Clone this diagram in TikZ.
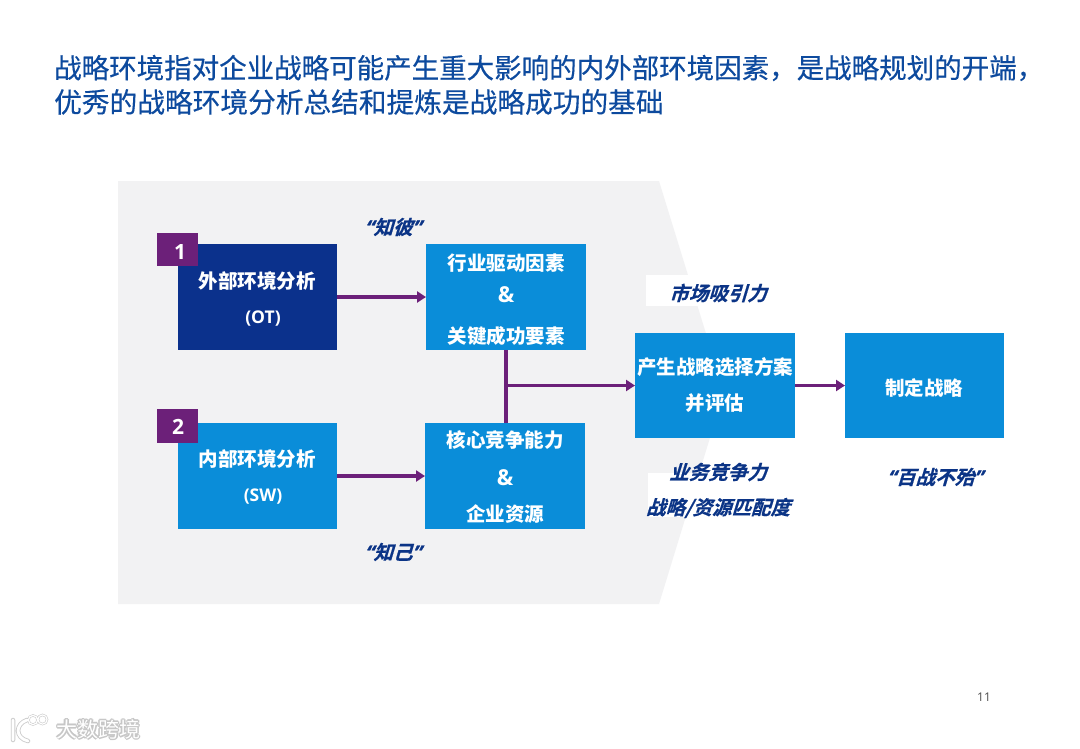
\documentclass[tikz,border=0pt]{standalone}
\usepackage{fontspec}
\setmainfont{Noto Sans CJK SC}
\newfontfamily\latinbold[BoldFont={Open Sans Bold}]{Open Sans}
\newfontfamily\quotefont[FakeSlant=0.25,FakeBold=1.5]{Open Sans}
\newfontfamily\cjkslant[BoldFont={Noto Sans CJK SC Bold},BoldFeatures={FakeSlant=0.3,FakeBold=0.6}]{Noto Sans CJK SC}
\newfontfamily\cjktitle[FakeBold=0.35]{Noto Sans CJK SC}
\usetikzlibrary{arrows.meta}
\definecolor{bgray}{HTML}{F2F2F3}
\definecolor{bblue}{HTML}{0A8DD9}
\definecolor{bdark}{HTML}{0B318C}
\definecolor{bpurple}{HTML}{6C2079}
\definecolor{btitle}{HTML}{0D4A9E}
\definecolor{bslant}{HTML}{0B3486}
\tikzset{
  x=1pt,y=-1pt,
  boxnode/.style={minimum width=#1,minimum height=105.5pt,inner sep=0pt,outer sep=0pt,fill=bblue,draw=none},
  boxnode/.default=160pt,
  badge/.style={fill=bpurple,minimum width=41.5pt,minimum height=33.5pt,inner sep=0pt,outer sep=0pt},
  boxtext/.style={text=white,font=\fontsize{19.5}{22}\selectfont\bfseries,inner sep=0pt},
  lattext/.style={text=white,font=\fontsize{17.5}{20}\latinbold\bfseries,inner sep=0pt},
  amptext/.style={text=white,font=\fontsize{22}{24}\latinbold\bfseries,inner sep=0pt},
  numtext/.style={text=white,font=\fontsize{21}{24}\latinbold\bfseries,inner sep=0pt},
  slanttext/.style={text=bslant,font=\fontsize{19.5}{22}\cjkslant\bfseries,inner sep=0pt},
  titletext/.style={text=btitle,font=\fontsize{27.5}{30}\cjktitle,inner sep=0pt,anchor=west},
  flow/.style={draw=bpurple,line width=3.2pt,-{Triangle[length=9pt,width=11pt]}},
  flowplain/.style={draw=bpurple,line width=3.2pt},
  wmshadow/.style={text=black!22,font=\fontsize{21}{24}\selectfont\bfseries,inner sep=0pt},
  wmtext/.style={text=white,font=\fontsize{21}{24}\selectfont,inner sep=0pt},
}
\newcommand{\openq}{{\quotefont “}}
\newcommand{\closeq}{{\quotefont ”}}
\begin{document}
\begin{tikzpicture}
\useasboundingbox (0,0) rectangle (1080,748);
\fill[white] (0,0) rectangle (1080,748);
% grey chevron
\fill[bgray] (118,181) -- (659,181) -- (724,392) -- (659,604) -- (118,604) -- cycle;
% white text backings
\fill[white] (646,275) rectangle (780,306);
\fill[white] (648,473) rectangle (780,517);
% title
\node[titletext] (t1) at (54,68) {战略环境指对企业战略可能产生重大影响的内外部环境因素，是战略规划的开端，};
\node[titletext,font=\fontsize{27.7}{30}\cjktitle] (t2) at (54,102) {优秀的战略环境分析总结和提炼是战略成功的基础};
% boxes
\node[boxnode=159pt,fill=bdark] (ext) at (257.5,297) {};
\node[boxnode=159pt] (int) at (257.5,476) {};
\node[boxnode] (kfs) at (506,297) {};
\node[boxnode] (core) at (505,476) {};
\node[boxnode] (opt) at (715,385.5) {};
\node[boxnode=159pt] (strat) at (924.5,385.5) {};
\node[badge] (b1) at (177.5,249.5) {};
\node[badge] (b2) at (177.5,426) {};
% box texts
\node[numtext] (n1) at (180,252) {1};
\node[numtext] (n2) at (178,427) {2};
\node[boxtext] (e1) at (257,281) {外部环境分析};
\node[lattext] (e2) at (263,318.5) {(OT)};
\node[boxtext] (i1) at (257,459) {内部环境分析};
\node[lattext] (i2) at (263,496.5) {(SW)};
\node[boxtext] (k1) at (506,263) {行业驱动因素};
\node[amptext] (k2) at (506,295) {\&};
\node[boxtext] (k3) at (506,336) {关键成功要素};
\node[boxtext] (c1) at (505,440) {核心竞争能力};
\node[amptext] (c2) at (505,478) {\&};
\node[boxtext] (c3) at (505,514) {企业资源};
\node[boxtext] (o1) at (715,367) {产生战略选择方案};
\node[boxtext] (o2) at (715,403) {并评估};
\node[boxtext] (s1) at (924,388) {制定战略};
% italic labels
\node[slanttext] (l1) at (393,227) {\openq 知彼\closeq};
\node[slanttext] (l2) at (393,552) {\openq 知己\closeq};
\node[slanttext] (l3) at (718,293) {市场吸引力};
\node[slanttext] (l4) at (718,472) {业务竞争力};
\node[slanttext] (l5) at (718,508) {战略/资源匹配度};
\node[slanttext] (l6) at (935,477) {\openq 百战不殆\closeq};
% connectors
\draw[flow] (ext.east) -- (kfs.west);
\draw[flow] (int.east) -- (core.west);
\draw[flowplain] (kfs.south) -- (kfs.south |- core.north) coordinate (mid);
\coordinate (junction) at (kfs.south |- opt.west);
\draw[flow] (junction) -- (opt.west);
\draw[flow] (opt.east) -- (strat.west);
% page number
\node[text=black!70,font=\fontsize{12}{14}\fontspec{Open Sans},inner sep=0pt] (page) at (984,697) {11};
% watermark
\foreach \dx/\dy in {-1/0,1/0,0/-1,0/1}{
  \node[wmshadow] at (98.5+\dx,729+\dy) {大数跨境};
}
\node[wmtext] (wm) at (98.5,729) {大数跨境};
\draw[black!20,line width=4.5pt,line cap=round] (13,720) -- (13,740) (27,720) .. controls (15,724) and (15,738) .. (28,741);
\draw[black!20,line width=2.4pt] (33,720) circle (4.6pt) (42.5,719.5) circle (4.6pt);
\draw[white,line width=2.8pt,line cap=round] (13,720) -- (13,740) (27,720) .. controls (15,724) and (15,738) .. (28,741);
\draw[white,line width=1.2pt] (33,720) circle (4.6pt) (42.5,719.5) circle (4.6pt);
\end{tikzpicture}
\end{document}
